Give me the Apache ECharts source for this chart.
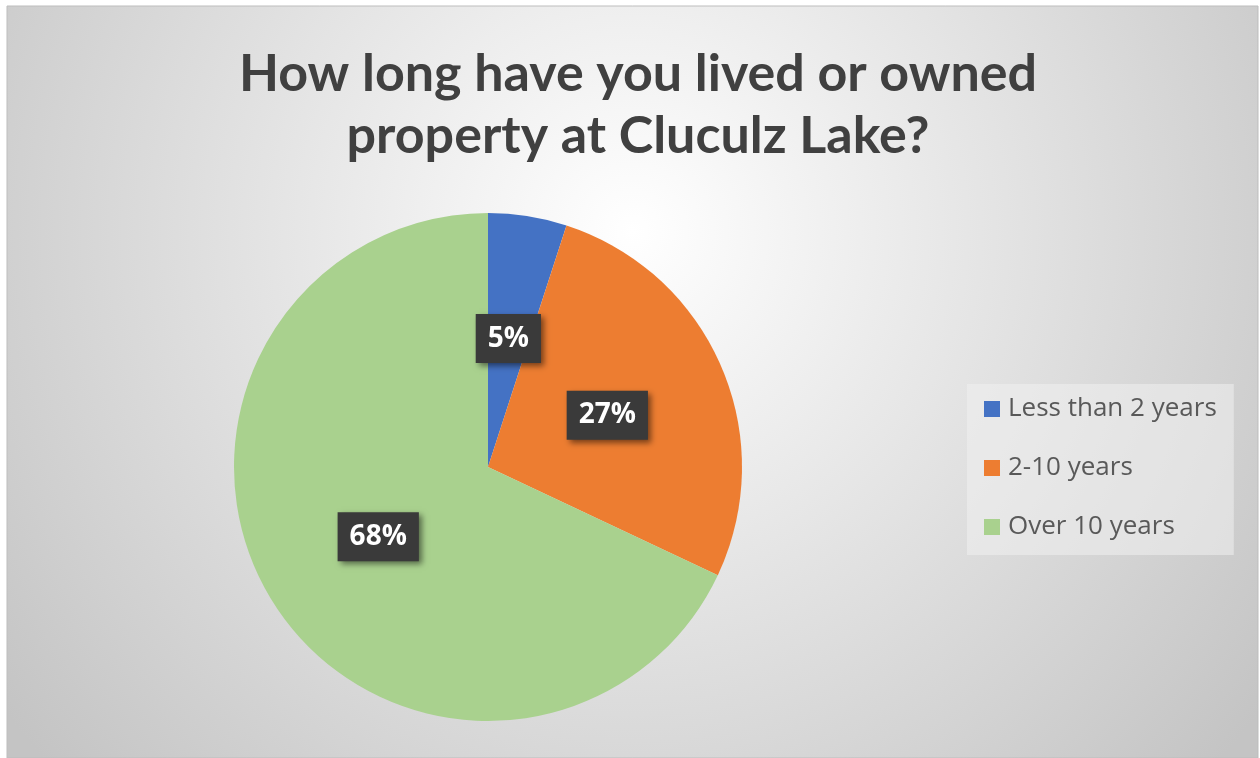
<!DOCTYPE html>
<html>
<head>
<meta charset="utf-8">
<script src="https://cdn.jsdelivr.net/npm/echarts@6/dist/echarts.min.js"></script>
<style>
  html, body { margin: 0; padding: 0; background: #ffffff; }
  #chart { width: 1260px; height: 758px; }
</style>
</head>
<body>
<div id="chart"></div>
<script>
// survey answers
const categories = ['Less than 2 years', '2-10 years', 'Over 10 years']
const shares = [5, 27, 68]
const colors = ['#4472c4', '#ed7d31', '#a9d18e']

const chart = echarts.init(document.getElementById('chart'))

const option = {
  color: colors,
  animation: false,
  graphic: [
    {
      type: 'rect',
      z: -10,
      shape: { x: 7, y: 6, width: 1251, height: 752 },
      style: {
        fill: {
          type: 'radial',
          x: 0.5,
          y: 0.3,
          r: 1.05,
          colorStops: [
            { offset: 0, color: '#ffffff' },
            { offset: 1, color: '#c4c4c4' },
          ],
        },
        stroke: '#bdbdbd',
        lineWidth: 1,
      },
    },
  ],
  title: {
    text: 'How long have you lived or owned\nproperty at Cluculz Lake?',
    left: 633,
    top: 38,
    textAlign: 'center',
    textStyle: {
      fontFamily: 'Lato',
      fontWeight: 'bold',
      fontSize: 52,
      lineHeight: 62,
      color: '#404040',
    },
  },
  legend: {
    orient: 'vertical',
    left: 967,
    top: 384,
    padding: [12, 17, 15, 17],
    backgroundColor: 'rgba(240,240,240,0.55)',
    itemWidth: 16,
    itemHeight: 16,
    itemGap: 33,
    icon: 'rect',
    data: categories,
    textStyle: {
      fontFamily: 'Open Sans',
      fontSize: 26,
      width: 215,
      color: '#595959',
      padding: [0, 0, 0, 3],
    },
  },
  series: [
    {
      type: 'pie',
      center: [488, 467],
      radius: 254,
      startAngle: 90,
      clockwise: true,
      label: {
        show: true,
        position: 'inside',
        formatter: '{c}%',
        fontFamily: 'Open Sans',
        fontWeight: 'bold',
        fontSize: 28,
        lineHeight: 30,
        color: '#ffffff',
        backgroundColor: '#3a3a3a',
        padding: [10, 12, 9, 12],
        shadowColor: 'rgba(0,0,0,0.5)',
        shadowBlur: 6,
        shadowOffsetX: 3,
        shadowOffsetY: 3,
      },
      labelLine: { show: false },
      emphasis: { disabled: true },
      data: categories.map((name, i) => ({ name: name, value: shares[i] })),
    },
  ],
}

chart.setOption(option)
</script>
</body>
</html>
